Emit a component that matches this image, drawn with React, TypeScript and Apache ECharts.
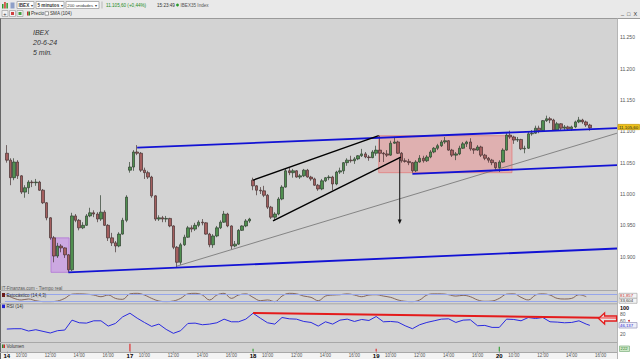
import React, { useEffect, useRef } from 'react';
import * as echarts from 'echarts';

// ---------- data ----------
const dayNames = ['14', '17', '18', '19', '20'];
const BARS_PER_DAY = 34; // 15-minute bars, 09:00 - 17:30
const CATEGORY_COUNT = 169;
const labelSlots = [0, 4, 12, 20, 28]; // day start, 10:00, 12:00, 14:00, 16:00

// [open, close, low, high]
const day14 = [
  [11065, 11054, 11050, 11078], [11054, 11026, 11014, 11057], [11026, 11051, 11022, 11057], [11051, 11029, 11024, 11054],
  [11029, 11003, 11000, 11030], [11003, 11010, 10994, 11014], [11010, 11019, 11000, 11022], [11019, 11018, 11011, 11022],
  [11018, 11019, 11013, 11024], [11019, 11006, 11005, 11021], [11006, 10986, 10984, 11008], [10986, 10962, 10958, 10987],
  [10962, 10930, 10927, 10963], [10930, 10901, 10891, 10933], [10901, 10917, 10898, 10922], [10917, 10914, 10907, 10920],
  [10914, 10903, 10898, 10915], [10903, 10879, 10875, 10904], [10879, 10965, 10877, 10970], [10965, 10958, 10955, 10968],
  [10958, 10946, 10942, 10960], [10946, 10950, 10944, 10955], [10950, 10965, 10949, 10968], [10965, 10970, 10963, 10978],
  [10970, 10968, 10963, 10974], [10968, 10960, 10955, 10971], [10960, 10971, 10957, 10998], [10971, 10950, 10949, 10974],
  [10950, 10930, 10925, 10952], [10930, 10922, 10917, 10938], [10922, 10917, 10907, 10925], [10917, 10936, 10915, 10939],
  [10936, 10958, 10935, 10962], [10958, 10995, 10955, 10998],
];
const day17 = [
  [11038, 11043, 11034, 11051], [11043, 11067, 11037, 11070], [11067, 11065, 11062, 11078], [11065, 11038, 11035, 11067],
  [11038, 11034, 11024, 11042], [11034, 11027, 11024, 11037], [11027, 10997, 10994, 11029], [10997, 10960, 10957, 10998],
  [10960, 10962, 10957, 10966], [10962, 10960, 10955, 10965], [10960, 10961, 10955, 10965], [10961, 10949, 10947, 10962],
  [10949, 10915, 10912, 10950], [10915, 10891, 10882, 10917], [10891, 10919, 10887, 10922], [10919, 10931, 10917, 10935],
  [10931, 10946, 10930, 10949], [10946, 10944, 10939, 10950], [10944, 10950, 10941, 10954], [10950, 10955, 10947, 10958],
  [10955, 10954, 10950, 10960], [10954, 10936, 10935, 10955], [10936, 10919, 10915, 10938], [10919, 10933, 10914, 10936],
  [10933, 10946, 10931, 10949], [10946, 10955, 10944, 10958], [10955, 10968, 10954, 10973], [10968, 10949, 10947, 10970],
  [10949, 10917, 10912, 10950], [10917, 10920, 10915, 10925], [10920, 10942, 10919, 10944], [10942, 10949, 10941, 10950],
  [10949, 10957, 10947, 10960], [10957, 10960, 10954, 10962],
];
const day18 = [
  [11022, 11013, 11006, 11026], [11013, 11006, 10998, 11014], [11006, 11005, 11000, 11011], [11005, 10998, 10995, 11013],
  [10998, 10979, 10976, 11000], [10979, 10963, 10960, 10981], [10963, 10968, 10957, 10971], [10968, 10992, 10966, 10995],
  [10992, 11011, 10990, 11014], [11011, 11037, 11010, 11040], [11037, 11034, 11030, 11042], [11034, 11037, 11026, 11040],
  [11037, 11027, 11026, 11038], [11027, 11029, 11024, 11032], [11029, 11038, 11027, 11040], [11038, 11027, 11026, 11040],
  [11027, 11024, 11021, 11029], [11024, 11014, 11013, 11026], [11014, 11008, 11005, 11016], [11008, 11021, 11006, 11024],
  [11021, 11026, 11019, 11027], [11026, 11027, 11022, 11030], [11027, 11016, 11006, 11029], [11016, 11035, 11014, 11037],
  [11035, 11037, 11032, 11042], [11037, 11050, 11032, 11051], [11050, 11054, 11045, 11057], [11054, 11053, 11050, 11061],
  [11053, 11056, 11048, 11059], [11056, 11061, 11054, 11062], [11061, 11064, 11059, 11072], [11064, 11059, 11057, 11067],
  [11059, 11058, 11053, 11062], [11058, 11067, 11057, 11070],
];
const day19 = [
  [11065, 11070, 11061, 11077], [11070, 11065, 11051, 11093], [11065, 11064, 11051, 11067], [11064, 11062, 11059, 11070],
  [11062, 11081, 11061, 11085], [11081, 11083, 11080, 11091], [11083, 11065, 11064, 11085], [11065, 11053, 11050, 11067],
  [11053, 11052, 11050, 11057], [11052, 11050, 11046, 11056], [11050, 11037, 11034, 11051], [11037, 11051, 11035, 11054],
  [11051, 11057, 11050, 11062], [11057, 11053, 11050, 11061], [11053, 11059, 11051, 11062], [11059, 11067, 11057, 11070],
  [11067, 11073, 11065, 11075], [11073, 11077, 11070, 11080], [11077, 11083, 11075, 11086], [11083, 11085, 11080, 11091],
  [11085, 11070, 11069, 11086], [11070, 11062, 11059, 11072], [11062, 11064, 11054, 11067], [11064, 11073, 11062, 11077],
  [11073, 11080, 11072, 11083], [11080, 11083, 11075, 11085], [11083, 11072, 11069, 11089], [11072, 11070, 11064, 11073],
  [11070, 11075, 11069, 11078], [11075, 11062, 11059, 11077], [11062, 11057, 11054, 11064], [11057, 11054, 11050, 11059],
  [11054, 11050, 11046, 11056], [11050, 11042, 11038, 11051],
];
const day20 = [
  [11042, 11051, 11035, 11054], [11051, 11070, 11050, 11073], [11070, 11094, 11069, 11097], [11094, 11091, 11088, 11101],
  [11091, 11086, 11080, 11093], [11086, 11087, 11083, 11091], [11087, 11072, 11070, 11088], [11072, 11073, 11065, 11077],
  [11073, 11096, 11072, 11099], [11096, 11097, 11093, 11102], [11097, 11105, 11096, 11109], [11105, 11101, 11097, 11109],
  [11101, 11117, 11099, 11118], [11117, 11120, 11115, 11125], [11120, 11118, 11113, 11123], [11118, 11102, 11101, 11120],
  [11102, 11112, 11101, 11115], [11112, 11105, 11102, 11113], [11105, 11107, 11102, 11110], [11107, 11104, 11101, 11109],
  [11104, 11107, 11101, 11109], [11107, 11115, 11105, 11117], [11115, 11118, 11113, 11123], [11118, 11115, 11112, 11120],
  [11115, 11110, 11107, 11117], [11110, 11105.6, 11101, 11112],
];

// indicators, one value every 2 bars (30 min)
const stochK = [
  76, 44, 29, 38, 22, 13, 13, 19, 44, 84, 87, 84, 76, 60, 76, 44, 35, 87, 92, 76,
  44, 19, 13, 19, 44, 87, 92, 76, 29, 76, 92, 44, 76, 87, 54, 22, 29, 13, 66, 92,
  87, 66, 54, 22, 66, 76, 79, 87, 76, 60, 76, 79, 66, 54, 29, 16, 13, 29, 76, 87,
  87, 79, 66, 73, 60, 29, 16, 19, 44, 84, 87, 54, 29, 76, 87, 76, 44, 38, 44, 79, 60,
];
const rsi14 = [
  35, 36, 36, 29, 33, 28, 23, 30, 32, 62, 54, 53, 60, 60, 44, 52, 72, 83, 68, 55,
  43, 50, 34, 22, 30, 52, 53, 48, 50, 54, 65, 57, 57, 65, 83, 68, 54, 50, 70, 66,
  65, 58, 55, 44, 57, 50, 62, 65, 58, 64, 61, 73, 57, 58, 56, 45, 36, 48, 55, 60,
  65, 66, 55, 62, 63, 45, 46, 40, 40, 65, 64, 60, 70, 67, 70, 57, 56, 54, 55, 60, 50,
];
const rsiLast = 46.137;

// opening-auction volume bars (the only ones visible)
const volumeIndex = [34, 68, 102, 136];
const volumeValue = [2.7, 1.0, 1.0, 1.7];
const volumeUp = [false, true, false, true];

// drawings: [barIndex, price]
const channelUpper = [[36, 11074], [168.5, 11105]];
const channelLower = [[17, 10875], [168.5, 10913]];
const channelMid = [[112, 11032], [168.5, 11046]];
const thinSupport = [[47, 10885], [168.5, 11097]];
const wedgeUpper = [[68, 11022], [102.7, 11093]];
const wedgeLower = [[73.5, 10957], [108.8, 11059]];
const targetArrow = [108.5, 11057, 10952];
const lowBox = [12.2, 10930, 17.2, 10875];
const rangeBox = [102.7, 11093, 139.5, 11034];
const rsiResistance = [[68, 83.6], [168.5, 68.5]];
const rsiArrowAt = [165.9, 67];

// ---------- option ----------
function pad(n: number) { return n < 10 ? '0' + n : '' + n; }

function buildOption() {
  const candles = [...day14, ...day17, ...day18, ...day19, ...day20];
  const categories: string[] = [];
  dayNames.forEach((d) => {
    for (let j = 0; j < BARS_PER_DAY; j++) {
      const m = 540 + 15 * j;
      categories.push(d + '|' + pad(Math.floor(m / 60)) + ':' + pad(m % 60));
    }
  });
  categories.length = CATEGORY_COUNT;
  const showSlot = (i: number) => labelSlots.includes(i % BARS_PER_DAY);

  const volData: any[] = new Array(CATEGORY_COUNT).fill('-');
  volumeIndex.forEach((idx, k) => {
    volData[idx] = { value: volumeValue[k], itemStyle: { color: volumeUp[k] ? '#3aa03a' : '#e03030' } };
  });

  const fmtPrice = (v: number) => {
    if (v % 50 !== 0 || v < 10900 || v > 11250) return '';
    const s = String(v);
    return s.slice(0, s.length - 3) + '.' + s.slice(-3);
  };
  const fmtRsi = (v: number) => (v === 100 ? '{b|100}' : v === 80 || v === 60 || v === 20 ? String(v) : '');

  const F = 'Liberation Sans';
  const T = (x: number, y: number, text: string, o: any = {}) => ({
    type: 'text', x, y, z: 100, silent: true,
    style: {
      text, fill: o.fill || '#333', fontSize: o.size || 4.6, fontFamily: F,
      fontWeight: o.weight || 'normal', fontStyle: o.style || 'normal',
      align: o.align || 'left', verticalAlign: 'middle',
    },
  });
  const R = (x: number, y: number, w: number, h: number, fill: string, stroke?: string, z = 100) => ({
    type: 'rect', z, silent: true, shape: { x, y, width: w, height: h },
    style: { fill, stroke: stroke || null, lineWidth: 0.8 },
  });
  const L = (x1: number, y1: number, x2: number, y2: number, stroke: string, w = 1, z = -5) => ({
    type: 'line', z, silent: true, shape: { x1, y1, x2, y2 }, style: { stroke, lineWidth: w },
  });
  const C = (cx: number, cy: number, r: number, fill: string) => ({
    type: 'circle', z: 100, silent: true, shape: { cx, cy, r }, style: { fill },
  });

  const overlayLine = (data: number[][], color: string, width: number) => ({
    type: 'line', xAxisIndex: 1, yAxisIndex: 0, data, symbol: 'none', showSymbol: false, silent: true,
    z: 3, lineStyle: { color, width }, clip: true,
  });

  const gridBase = { left: 5, width: 612 };

  return {
    animation: false,
    backgroundColor: '#d3d3d3',
    textStyle: { fontFamily: F },
    grid: [
      { ...gridBase, top: 18.5, height: 269.5 },
      { ...gridBase, top: 292.5, height: 10.5 },
      { ...gridBase, top: 307.6, height: 33 },
      { ...gridBase, top: 343, height: 9 },
    ],
    xAxis: [
      { type: 'category', gridIndex: 0, data: categories, boundaryGap: true, show: false },
      { type: 'value', gridIndex: 0, min: -0.5, max: 168.5, show: false },
      { type: 'value', gridIndex: 1, min: -0.5, max: 168.5, show: false },
      { type: 'value', gridIndex: 2, min: -0.5, max: 168.5, show: false },
      {
        type: 'category', gridIndex: 3, data: categories, boundaryGap: true,
        axisLine: { show: false },
        axisTick: { show: true, alignWithLabel: true, interval: (i: number) => showSlot(i), length: 2, lineStyle: { color: '#888', width: 0.6 } },
        axisLabel: {
          interval: (i: number) => showSlot(i), margin: 1.5, color: '#555', fontSize: 4.5, fontFamily: F,
          formatter: (value: string) => {
            const [d, t] = value.split('|');
            return t === '09:00' ? '{d|' + d + '}' : '{t|' + t + '}';
          },
          rich: {
            d: { fontSize: 6, fontWeight: 'bold', color: '#000', fontFamily: F },
            t: { fontSize: 4.5, color: '#555', fontFamily: F },
          },
        },
        splitLine: { show: false },
      },
    ],
    yAxis: [
      {
        type: 'value', gridIndex: 0, position: 'right', min: 10850, max: 11280, interval: 50,
        axisLine: { show: false }, axisTick: { show: false }, splitLine: { show: false },
        axisLabel: { formatter: fmtPrice, color: '#555', fontSize: 5, margin: 3, fontFamily: F },
      },
      { type: 'value', gridIndex: 1, min: 0, max: 100, show: false },
      {
        type: 'value', gridIndex: 2, position: 'right', min: 0, max: 100, interval: 20,
        axisLine: { show: false }, axisTick: { show: false }, splitLine: { show: false },
        axisLabel: {
          formatter: fmtRsi, color: '#555', fontSize: 5, margin: 3, fontFamily: F,
          rich: { b: { fontWeight: 'bold', color: '#000', fontSize: 5.5, fontFamily: F } },
        },
      },
      { type: 'value', gridIndex: 3, min: 0, max: 3, show: false },
    ],
    series: [
      {
        type: 'custom', xAxisIndex: 1, yAxisIndex: 0, z: 1, silent: true,
        data: [lowBox, rangeBox],
        renderItem: (p: any, api: any) => {
          const a = api.coord([api.value(0), api.value(1)]);
          const b = api.coord([api.value(2), api.value(3)]);
          const purple = p.dataIndex === 0;
          return {
            type: 'rect',
            shape: { x: a[0], y: a[1], width: b[0] - a[0], height: b[1] - a[1] },
            style: {
              fill: purple ? 'rgba(200,140,235,0.6)' : 'rgba(240,128,128,0.42)',
              stroke: purple ? 'rgba(175,110,215,0.9)' : 'rgba(226,120,120,0.9)',
              lineWidth: 0.8,
            },
          };
        },
      },
      {
        type: 'candlestick', xAxisIndex: 0, yAxisIndex: 0, z: 2, data: candles, barWidth: 3,
        itemStyle: {
          color: '#4f8f4f', color0: '#a45e5e', borderColor: '#2f3f2f', borderColor0: '#453030', borderWidth: 0.7,
        },
      },
      overlayLine(thinSupport, '#707070', 0.8),
      overlayLine(channelUpper, '#1212d4', 1.8),
      overlayLine(channelLower, '#1212d4', 1.8),
      overlayLine(channelMid, '#1212d4', 1.8),
      overlayLine(wedgeUpper, '#000000', 1.4),
      overlayLine(wedgeLower, '#000000', 1.4),
      {
        type: 'custom', xAxisIndex: 1, yAxisIndex: 0, z: 4, silent: true,
        data: [targetArrow],
        renderItem: (p: any, api: any) => {
          const top = api.coord([api.value(0), api.value(1)]);
          const bot = api.coord([api.value(0), api.value(2)]);
          return {
            type: 'group',
            children: [
              { type: 'line', shape: { x1: top[0], y1: top[1], x2: bot[0], y2: bot[1] - 3 }, style: { stroke: '#111', lineWidth: 1 } },
              { type: 'polygon', shape: { points: [[bot[0] - 2, bot[1] - 4.5], [bot[0] + 2, bot[1] - 4.5], [bot[0], bot[1]]] }, style: { fill: '#111' } },
            ],
          };
        },
      },
      {
        type: 'line', xAxisIndex: 2, yAxisIndex: 1, symbol: 'none', smooth: 0.4, silent: true,
        data: stochK.map((v, k) => [2 * k, v]),
        lineStyle: { color: '#7d5a4c', width: 0.9 },
        markLine: {
          silent: true, symbol: 'none', label: { show: false },
          lineStyle: { color: '#96a6ea', width: 1, type: 'solid' },
          data: [{ yAxis: 80 }, { yAxis: 20 }],
        },
      },
      {
        type: 'line', xAxisIndex: 3, yAxisIndex: 2, symbol: 'none', silent: true,
        data: [...rsi14.map((v, k) => [2 * k, v]), [161, rsiLast]],
        lineStyle: { color: '#2a2ae0', width: 1 },
      },
      {
        type: 'line', xAxisIndex: 3, yAxisIndex: 2, symbol: 'none', silent: true, z: 3,
        data: rsiResistance, lineStyle: { color: '#e41b1b', width: 2 },
      },
      {
        type: 'custom', xAxisIndex: 3, yAxisIndex: 2, z: 5, silent: true,
        data: [rsiArrowAt],
        renderItem: (p: any, api: any) => {
          const c = api.coord([api.value(0), api.value(1)]);
          const x = c[0], y = c[1];
          return {
            type: 'polygon',
            shape: {
              points: [[x - 9, y], [x - 3, y - 5.5], [x - 3, y - 2.5], [x + 9, y - 2.5], [x + 9, y + 2.5], [x - 3, y + 2.5], [x - 3, y + 5.5]],
            },
            style: { fill: 'rgba(255,255,255,0.45)', stroke: '#e41b1b', lineWidth: 1.3 },
          };
        },
      },
      {
        type: 'bar', xAxisIndex: 4, yAxisIndex: 3, data: volData, barWidth: 1.2, silent: true,
      },
    ],
    graphic: [
      // backgrounds
      R(0, 0, 640, 18.5, '#e9e9e9', undefined, -10),
      R(617, 18.5, 23, 341, '#ffffff', undefined, -10),
      R(0, 352.5, 617, 7, '#f3f3f3', undefined, -10),
      // frame lines
      L(0, 18.5, 640, 18.5, '#9a9a9a'),
      L(0.5, 18.5, 0.5, 359, '#666666'),
      L(617.5, 18.5, 617.5, 359, '#b5b5b5'),
      L(0, 290.5, 617, 290.5, '#a8a8a8'),
      L(0, 303.8, 617, 303.8, '#a8a8a8'),
      L(0, 342.5, 617, 342.5, '#a8a8a8'),
      L(0, 352.5, 617, 352.5, '#a8a8a8'),
      // toolbar row 1
      R(2, 4, 1.5, 4.5, '#2e9a2e'), R(4.2, 2, 1.5, 6.5, '#d23a2a'), R(6.4, 3, 1.5, 5.5, '#2e9a2e'),
      R(10.5, 2.5, 4, 6, '#8fa0c8'),
      R(17, 1.5, 17, 7, '#ffffff', '#a0a0a0'), T(18.5, 5, 'IBEX', { weight: 'bold' }), T(30.5, 5, '▾', { size: 4 }),
      R(36, 1.5, 28, 7, '#ffffff', '#a0a0a0'), T(37.5, 5, '5 minutos', { weight: 'bold' }), T(60.5, 5, '▾', { size: 4 }),
      R(66, 1.5, 33, 7, '#ffffff', '#a0a0a0'), T(67.3, 5, '200 unidades', { size: 4.3 }), T(95.3, 5, '▾', { size: 4 }),
      L(102, 1.5, 102, 8.5, '#aaaaaa', 0.8, 100),
      T(106, 5, '11.105,60 (+0,44%)', { fill: '#1d8a1d' }),
      T(157, 5, '15:23:49'),
      C(177.5, 5, 1.4, '#2a9a2a'),
      T(180.5, 5, 'IBEX35 Index', { fill: '#555' }),
      // toolbar row 2
      R(2, 10.5, 6, 6, '#f2f2f2', '#aaaaaa'), T(3.2, 13.5, '+', { size: 5.5 }),
      R(9.5, 10.5, 6, 6, '#f2f2f2', '#aaaaaa'), R(11, 12, 3, 3, '#d04040'),
      R(17, 10.5, 6, 6, '#f2f2f2', '#aaaaaa'), R(18.5, 12, 3, 3, '#40a040'),
      R(27, 11.5, 1.5, 4, '#c83030'), R(28.5, 11.5, 1.5, 4, '#2e8a2e'), T(31, 13.5, 'Precio'),
      R(45, 11.7, 3.5, 3.5, '#ffffff', '#888888'), T(50, 13.5, 'SMA (104)'),
      T(621, 13, '_', { size: 5.5 }), T(627, 13.5, '□', { size: 5.5 }), T(633.5, 13.5, 'X', { size: 5.5 }),
      // chart notes
      T(33, 32, 'IBEX', { size: 7, style: 'italic', fill: '#333' }),
      T(33, 42, '20-6-24', { size: 7, style: 'italic', fill: '#333' }),
      T(33, 52, '5 min.', { size: 7, style: 'italic', fill: '#333' }),
      // panel labels
      T(1.5, 288.8, 'IT-Finanzas.com - Tiempo real', { size: 4.5, fill: '#555' }),
      R(2, 293, 3, 4, '#6a1a1a'), T(6.5, 295, 'Estocástico (14,4,3)', { size: 4.5 }),
      R(2, 304.6, 3, 3.5, '#2020d0'), T(6.5, 306.4, 'RSI (14)', { size: 4.5 }),
      R(2, 344.6, 1.5, 3.5, '#2e8a2e'), R(3.5, 344.6, 1.5, 3.5, '#c83030'), T(6.5, 346.4, 'Volumen', { size: 4.5 }),
      // right-side value tags
      R(618, 124.4, 21.5, 5.2, '#efc21a', '#c9a010'), T(619, 127, '11.105,60', { size: 4.4, fill: '#222' }),
      R(619, 293.3, 18, 5, '#f4f4f4', '#b0b0b0'), T(620, 295.8, '81,857', { size: 4.3, fill: '#c03030' }),
      R(619, 298.3, 18, 5, '#f4f4f4', '#b0b0b0'), T(620, 300.8, '33,604', { size: 4.3, fill: '#333' }),
      R(619, 322.5, 18, 5.5, '#eeeef8', '#a0a0c0'), T(620, 325.3, '46,137', { size: 4.3, fill: '#2a2ad0' }),
      C(629, 320.8, 0.9, '#d02020'),
      R(619.5, 346, 10, 5.5, '#cfe8c8', '#8ab88a'), T(620.5, 348.8, '222', { size: 4.3, fill: '#2a7a2a' }),
    ],
  };
}

export default function App() {
  const ref = useRef<HTMLDivElement>(null);
  useEffect(() => {
    const chart = echarts.init(ref.current as HTMLDivElement, null, { renderer: 'svg' });
    chart.setOption(buildOption() as any);
    return () => chart.dispose();
  }, []);
  return <div ref={ref} style={{ position: 'fixed', left: 0, top: 0, width: 640, height: 359 }} />;
}
